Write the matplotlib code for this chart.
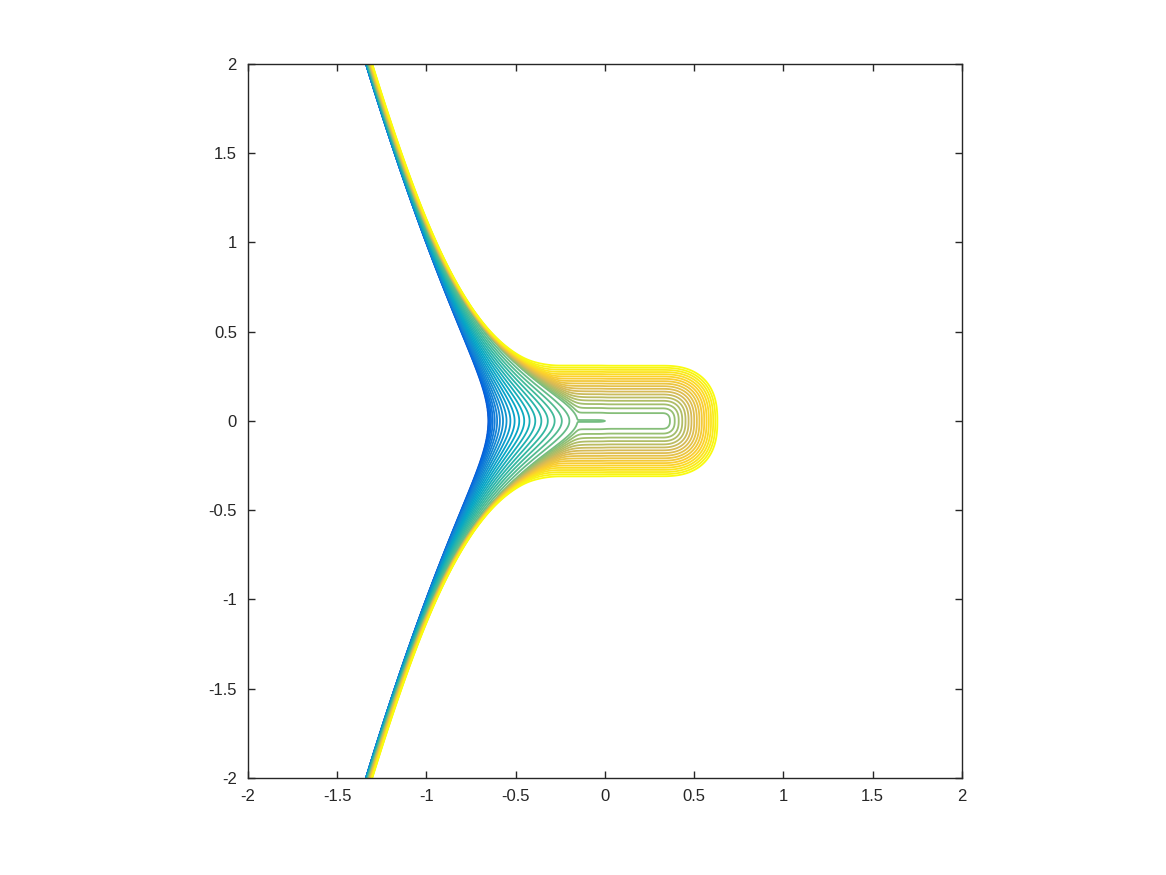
import numpy as np
import matplotlib
matplotlib.use("Agg")
import matplotlib.pyplot as plt
from matplotlib.colors import LinearSegmentedColormap

# parula-like colour ramp (MATLAB default)
PARULA = ['#352a87', '#0363e1', '#1485d4', '#06a7c6', '#38b99e',
          '#92bf73', '#d9ba56', '#fcce2e', '#f9fb0e']

# contour levels of the field (40 equally spaced values)
N_LEVELS = 40
LEVEL_MIN, LEVEL_MAX = 0.025, 1.0
TICKS = [-2, -1.5, -1, -0.5, 0, 0.5, 1, 1.5, 2]
TICK_LABELS = ['-2', '-1.5', '-1', '-0.5', '0', '0.5', '1', '1.5', '2']

# geometry
FRONT_X0 = -0.655      # where the left front crosses y = 0
FORK_X = -0.155        # where the fan of '>' curves closes
NEEDLE_END = 0.0       # tip of the degenerate contour
TONGUE_END = 0.32      # straight part of the tongue ends here
TONGUE_HALF = 0.31     # half width of the outermost tongue contour
C_STAR = 0.55          # level of the needle contour
W_MIN = 0.015          # width of the low part of the bundle far out
W2_MIN = 0.02          # width of the high part of the bundle far out
BLEND = 0.06           # softness of the join between fan and tongue


def left_front(y):
    return FRONT_X0 - 0.59 * ((y ** 2 + 0.29 ** 2) ** (1 / 3) - 0.29 ** (2 / 3))


def field(x, y):
    # fan of '>' curves between the left front and the fork
    ay = np.sqrt(y ** 2 + 0.1 ** 2) - 0.1
    w = (FORK_X - FRONT_X0 - W_MIN) * np.exp(-ay / 0.3) + W_MIN
    w2 = 0.3 * np.exp(-(y / 0.25) ** 2) + W2_MIN
    s = x - left_front(y)
    t = s / w
    g1 = np.where(t < 1, C_STAR * np.sign(t) * np.sqrt(np.abs(t)),
                  C_STAR + (1 - C_STAR) * (s - w) / w2)

    # tongue around the positive axis, flaring into the front on the left
    flare = 1 + (np.clip(-0.25 - x, 0, None) / 0.58) ** 2
    dx = np.clip(x - TONGUE_END, 0, None)
    d = (np.abs(y / flare) ** 2.5 + dx ** 2.5) ** (1 / 2.5)
    g2 = (C_STAR + 1e-3 * np.tanh((x - NEEDLE_END) / 0.02)
          + (1 - C_STAR) * (d / TONGUE_HALF) ** 1.5
          + 20 * np.clip(-0.72 - x, 0, None))

    # smooth minimum of the two, kept sharp along the axis (the fork)
    k = BLEND * (1 - np.exp(-(y / 0.12) ** 2)) + 0.002
    lo = np.minimum(g1, g2)
    return lo - k * np.log1p(np.exp(-np.abs(g1 - g2) / k))


def main():
    plt.rcParams['font.family'] = ['Liberation Sans', 'DejaVu Sans']
    plt.rcParams['axes.unicode_minus'] = False

    xs = np.linspace(-2, 2, 1601)
    X, Y = np.meshgrid(xs, xs)
    Z = field(X, Y)
    levels = np.linspace(LEVEL_MIN, LEVEL_MAX, N_LEVELS)
    cmap = LinearSegmentedColormap.from_list('parula', PARULA)

    fig = plt.figure(figsize=(11.66, 8.75), dpi=100)
    ax = fig.add_axes([0.2127, 0.1109, 0.6123, 0.816])
    ax.contour(X, Y, Z, levels=levels, cmap=cmap, vmin=-0.08, vmax=1.0,
               linewidths=1.3)

    ax.set_xlim(-2, 2)
    ax.set_ylim(-2, 2)
    ax.set_xticks(TICKS)
    ax.set_xticklabels(TICK_LABELS)
    ax.set_yticks(TICKS)
    ax.set_yticklabels(TICK_LABELS)
    ax.tick_params(direction='in', length=5, width=1.0, top=True, right=True,
                   labelsize=12, colors='#262626', pad=8)
    for spine in ax.spines.values():
        spine.set_color('#262626')
        spine.set_linewidth(1.0)

    fig.savefig('out.png', dpi=100)


if __name__ == '__main__':
    main()
